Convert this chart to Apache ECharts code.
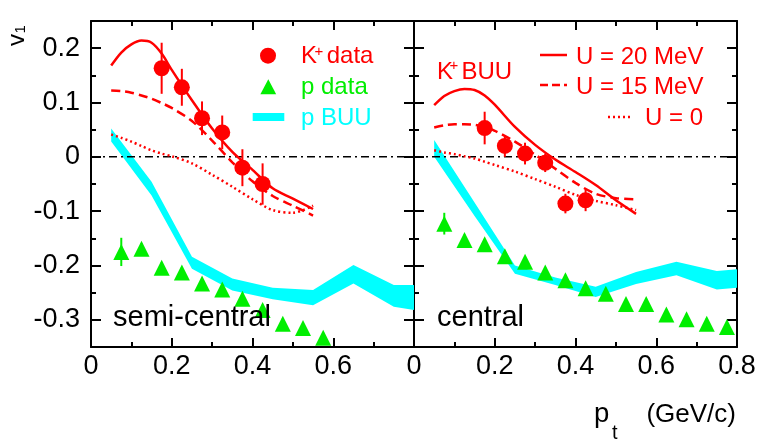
<!DOCTYPE html>
<html><head><meta charset="utf-8">
<script src="https://cdn.jsdelivr.net/npm/echarts@6/dist/echarts.min.js"></script>
<style>html,body{margin:0;padding:0;background:#fff}#c{width:763px;height:447px}</style>
</head><body><div id="c"></div>
<script>
// ---------- data ----------
const yTicks = [-0.3, -0.2, -0.1, 0, 0.1, 0.2];
const yMinorTicks = [-0.25, -0.15, -0.05, 0.05, 0.15];

// K+ data (both panels share x)
const kDataX = [0.175, 0.225, 0.275, 0.325, 0.375, 0.425];
const kSemiY = [0.163, 0.128, 0.071, 0.045, -0.020, -0.050];
const kSemiErr = [0.047, 0.034, 0.031, 0.031, 0.034, 0.038];
const kCentY = [0.053, 0.020, 0.006, -0.011, -0.086, -0.080];
const kCentErr = [0.030, 0.020, 0.020, 0.017, 0.018, 0.020];

// proton data
const pSemiX = [0.075, 0.125, 0.175, 0.225, 0.275, 0.325, 0.375, 0.425, 0.475, 0.525, 0.575];
const pSemiY = [-0.175, -0.169, -0.204, -0.213, -0.233, -0.244, -0.261, -0.282, -0.307, -0.315, -0.333];
const pSemiErr = [0.026, 0.01, 0.01, 0.01, 0.01, 0.01, 0.01, 0.01, 0.01, 0.01, 0.01];
const pCentX = [0.075, 0.125, 0.175, 0.225, 0.275, 0.325, 0.375, 0.425, 0.475, 0.525, 0.575, 0.625, 0.675, 0.725, 0.775];
const pCentY = [-0.123, -0.153, -0.161, -0.183, -0.193, -0.213, -0.227, -0.242, -0.252, -0.271, -0.271, -0.290, -0.299, -0.307, -0.313];
const pCentErr = [0.02, 0.01, 0.01, 0.01, 0.01, 0.01, 0.01, 0.01, 0.01, 0.01, 0.01, 0.01, 0.01, 0.01, 0.01];

// p BUU band (upper / lower edges)
const bandX = [0.05, 0.15, 0.25, 0.35, 0.45, 0.55, 0.65, 0.75, 0.8];
const bandSemiUpper = [0.052, -0.046, -0.184, -0.224, -0.241, -0.245, -0.199, -0.236, -0.236];
const bandSemiLower = [0.028, -0.071, -0.206, -0.246, -0.262, -0.273, -0.233, -0.276, -0.282];
const bandCentUpper = [0.031, -0.084, -0.200, -0.222, -0.239, -0.212, -0.193, -0.210, -0.207];
const bandCentLower = [0.000, -0.109, -0.215, -0.236, -0.258, -0.234, -0.218, -0.244, -0.241];

// K+ BUU curves
const curveX = [0.05, 0.075, 0.1, 0.125, 0.15, 0.175, 0.2, 0.25, 0.3, 0.35, 0.4, 0.45, 0.5, 0.55];
const semiU20 = [0.168, 0.192, 0.207, 0.214, 0.210, 0.190, 0.160, 0.104, 0.052, 0.009, -0.024, -0.058, -0.077, -0.096];
const semiU15 = [0.122, 0.121, 0.118, 0.113, 0.107, 0.099, 0.090, 0.066, 0.030, -0.010, -0.045, -0.072, -0.090, -0.108];
const semiU0  = [0.041, 0.035, 0.028, 0.020, 0.012, 0.006, 0.001, -0.012, -0.033, -0.055, -0.078, -0.098, -0.103, -0.090];
const centU20 = [0.095, 0.112, 0.121, 0.125, 0.123, 0.113, 0.096, 0.055, 0.022, -0.005, -0.028, -0.052, -0.080, -0.105];
const centU15 = [0.054, 0.058, 0.060, 0.060, 0.059, 0.055, 0.048, 0.028, 0.004, -0.022, -0.048, -0.068, -0.076, -0.078];
const centU0  = [0.012, 0.008, 0.005, 0.001, -0.003, -0.009, -0.015, -0.027, -0.041, -0.055, -0.070, -0.081, -0.089, -0.098];

const zeroLine = [[0, 0], [0.8, 0]];

// ---------- chart ----------
const FONT = '"Liberation Sans", Arial, Helvetica, sans-serif';
const BLACK = '#000';
const RED = '#ff0000';
const GREEN = '#00ee00';
const CYAN = '#00ffff';

function xAx(grid, pos, showLabels, showMax) {
  return {
    type: 'value', gridIndex: grid, position: pos, min: 0, max: 0.8, interval: 0.2,
    axisLine: { show: true, onZero: false, lineStyle: { color: BLACK, width: 2 } },
    axisTick: { show: true, inside: true, length: 9, lineStyle: { color: BLACK, width: 2 } },
    minorTick: { show: true, splitNumber: 2, length: 5, lineStyle: { color: BLACK, width: 2 } },
    splitLine: { show: false }, minorSplitLine: { show: false },
    axisLabel: { show: showLabels, showMaxLabel: showMax, showMinLabel: true, margin: 6,
      fontSize: 27, color: BLACK, fontFamily: FONT,
      formatter: v => String(+(+v).toFixed(2)) }
  };
}
function yAx(grid, pos, major, labels) {
  return {
    type: 'value', gridIndex: grid, position: pos, min: -0.35, max: 0.25,
    axisLine: { show: major, onZero: false, lineStyle: { color: BLACK, width: 2 } },
    axisTick: { show: true, inside: true, length: major ? 10 : 5,
      customValues: major ? yTicks : yMinorTicks, lineStyle: { color: BLACK, width: 2 } },
    axisLabel: { show: labels, customValues: yTicks, margin: 11, fontSize: 27, color: BLACK, fontFamily: FONT,
      formatter: v => String(+(+v).toFixed(2)) },
    splitLine: { show: false }
  };
}

function bandSeries(name, xi, yi, upper, lower) {
  return {
    name: name, type: 'custom', xAxisIndex: xi, yAxisIndex: yi, z: 1, clip: true,
    data: bandX.map((x, i) => [x, upper[i], lower[i]]),
    renderItem: function (params, api) {
      if (params.dataIndex !== 0) return null;
      const pts = [];
      for (let i = 0; i < bandX.length; i++) pts.push(api.coord([bandX[i], upper[i]]));
      for (let i = bandX.length - 1; i >= 0; i--) pts.push(api.coord([bandX[i], lower[i]]));
      return { type: 'polygon', shape: { points: pts }, style: { fill: CYAN, stroke: null } };
    }
  };
}
function curve(name, xi, yi, ys, dash) {
  return {
    name: name, type: 'line', xAxisIndex: xi, yAxisIndex: yi, z: 3,
    data: curveX.map((x, i) => [x, ys[i]]), showSymbol: false, symbol: 'none', smooth: 0.3,
    lineStyle: { color: RED, width: 2.5, type: dash }, silent: true
  };
}
function errSeries(name, xi, yi, xs, ys, es, color, z) {
  return {
    name: name, type: 'custom', xAxisIndex: xi, yAxisIndex: yi, z: z,
    data: xs.map((x, i) => [x, ys[i], es[i]]),
    renderItem: function (params, api) {
      const x = api.value(0), y = api.value(1), e = api.value(2);
      const a = api.coord([x, y - e]), b = api.coord([x, y + e]);
      return { type: 'line', shape: { x1: a[0], y1: a[1], x2: b[0], y2: b[1] },
        style: { stroke: color, lineWidth: 2 } };
    }
  };
}
function scatter(name, xi, yi, xs, ys, sym, color, z) {
  return {
    name: name, type: 'scatter', xAxisIndex: xi, yAxisIndex: yi, z: z,
    data: xs.map((x, i) => [x, ys[i]]), symbol: sym, symbolSize: 16,
    itemStyle: { color: color, opacity: 1 }
  };
}
function zero(xi, yi) {
  return {
    name: 'zero', type: 'line', xAxisIndex: xi, yAxisIndex: yi, z: 2, data: zeroLine,
    showSymbol: false, symbol: 'none', silent: true,
    lineStyle: { color: BLACK, width: 1.5, type: [8, 4, 2, 4] }
  };
}

function txt(x, y, text, color, size, align, rot) {
  const el = { type: 'text', x: x, y: y, z: 100,
    style: { text: text, fill: color, fontSize: size, fontFamily: FONT,
      align: align || 'left', verticalAlign: 'middle' } };
  if (rot) el.rotation = rot;
  return el;
}

const graphic = [
  // left legend
  { type: 'circle', shape: { cx: 268, cy: 55.7, r: 8 }, style: { fill: RED }, z: 100 },
  txt(301, 56, 'K', RED, 24),
  txt(314.5, 52, '+', RED, 15),
  txt(326.7, 56, 'data', RED, 24),
  { type: 'polygon', shape: { points: [[268.3, 79.3], [276.2, 94.3], [260.4, 94.3]] }, style: { fill: GREEN }, z: 100 },
  txt(301, 87, 'p data', GREEN, 24),
  { type: 'rect', shape: { x: 252.7, y: 113, width: 31.6, height: 8 }, style: { fill: CYAN }, z: 100 },
  txt(301, 118, 'p BUU', CYAN, 24),
  // right legend
  txt(437, 72.7, 'K', RED, 24),
  txt(449.5, 66, '+', RED, 15),
  txt(461.5, 72.7, 'BUU', RED, 24),
  { type: 'line', shape: { x1: 540, y1: 55, x2: 567, y2: 55 }, style: { stroke: RED, lineWidth: 2.5 }, z: 100 },
  txt(576, 57.5, 'U = 20 MeV', RED, 24),
  { type: 'line', shape: { x1: 540, y1: 85, x2: 567, y2: 85 }, style: { stroke: RED, lineWidth: 2.5, lineDash: [8, 4] }, z: 100 },
  txt(576, 87.5, 'U = 15 MeV', RED, 24),
  { type: 'line', shape: { x1: 608, y1: 117, x2: 632, y2: 117 }, style: { stroke: RED, lineWidth: 2.5, lineDash: [2, 3] }, z: 100 },
  txt(645, 118, 'U = 0', RED, 24),
  // panel labels
  txt(113, 317.5, 'semi-central', BLACK, 29),
  txt(437, 317.5, 'central', BLACK, 29),
  // axis titles
  txt(594, 414.5, 'p', BLACK, 27.5),
  txt(612, 433.5, 't', BLACK, 20),
  txt(736, 415, '(GeV/c)', BLACK, 26, 'right'),
  txt(17.6, 46, 'v', BLACK, 24, 'left', Math.PI / 2),
  txt(20.5, 33.5, '1', BLACK, 15, 'left', Math.PI / 2)
];

const option = {
  animation: false,
  backgroundColor: '#fff',
  grid: [
    { left: 91, top: 21, width: 323, height: 326 },
    { left: 414, top: 21, width: 323, height: 326 }
  ],
  xAxis: [
    xAx(0, 'bottom', true, false), xAx(0, 'top', false, false),
    xAx(1, 'bottom', true, true), xAx(1, 'top', false, false)
  ],
  yAxis: [
    yAx(0, 'left', true, true), yAx(0, 'left', false, false),
    yAx(0, 'right', true, false), yAx(0, 'right', false, false),
    yAx(1, 'left', true, false), yAx(1, 'left', false, false),
    yAx(1, 'right', true, false), yAx(1, 'right', false, false)
  ],
  graphic: graphic,
  series: [
    bandSeries('p BUU (semi-central)', 0, 0, bandSemiUpper, bandSemiLower),
    bandSeries('p BUU (central)', 2, 4, bandCentUpper, bandCentLower),
    zero(0, 0), zero(2, 4),
    curve('U = 20 MeV (semi-central)', 0, 0, semiU20, 'solid'),
    curve('U = 15 MeV (semi-central)', 0, 0, semiU15, [9, 5]),
    curve('U = 0 (semi-central)', 0, 0, semiU0, [2, 3]),
    curve('U = 20 MeV (central)', 2, 4, centU20, 'solid'),
    curve('U = 15 MeV (central)', 2, 4, centU15, [9, 5]),
    curve('U = 0 (central)', 2, 4, centU0, [2, 3]),
    errSeries('p data err (semi-central)', 0, 0, pSemiX, pSemiY, pSemiErr, GREEN, 4),
    scatter('p data (semi-central)', 0, 0, pSemiX, pSemiY, 'triangle', GREEN, 5),
    errSeries('p data err (central)', 2, 4, pCentX, pCentY, pCentErr, GREEN, 4),
    scatter('p data (central)', 2, 4, pCentX, pCentY, 'triangle', GREEN, 5),
    errSeries('K+ data err (semi-central)', 0, 0, kDataX, kSemiY, kSemiErr, RED, 6),
    scatter('K+ data (semi-central)', 0, 0, kDataX, kSemiY, 'circle', RED, 7),
    errSeries('K+ data err (central)', 2, 4, kDataX, kCentY, kCentErr, RED, 6),
    scatter('K+ data (central)', 2, 4, kDataX, kCentY, 'circle', RED, 7)
  ]
};
const chart = echarts.init(document.getElementById('c'), null, { renderer: 'canvas' });
chart.setOption(option);
</script></body></html>
